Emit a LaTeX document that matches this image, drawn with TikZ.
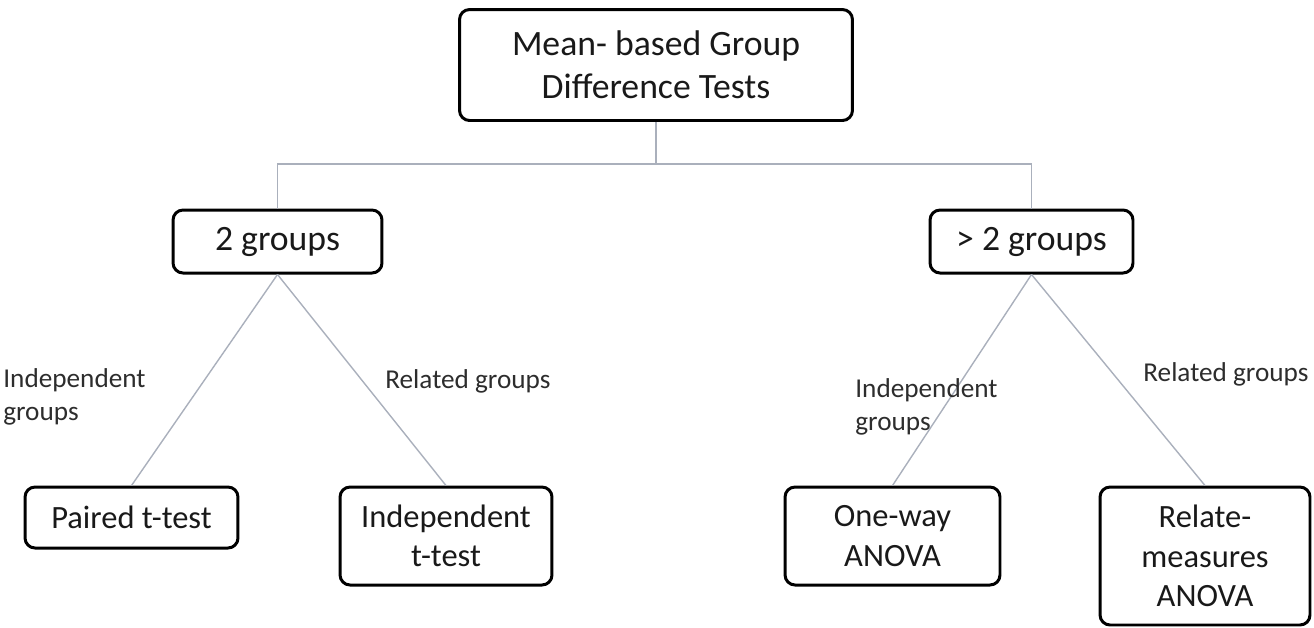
\documentclass[tikz,border=0pt]{standalone}
\usepackage{fontspec}
\setmainfont{Carlito}

\definecolor{linegray}{RGB}{170,176,188}
\definecolor{lbltext}{RGB}{45,45,45}

\tikzset{
	box/.style={draw=black, line width=1.7pt, rounded corners=0.2cm, align=center,
		inner sep=0pt, text=black!90, font=\fontsize{18.5}{22.5}\selectfont},
	bigbox/.style={box, font=\fontsize{20.3}{24.5}\selectfont},
	conn/.style={draw=linegray, line width=0.8pt},
	lbl/.style={inner sep=0pt, align=left, text=lbltext, font=\fontsize{15.5}{18.5}\selectfont}
}

\begin{document}
\begin{tikzpicture}[x=0.02cm, y=-0.02cm]

	\useasboundingbox (0,0) rectangle (1314,627);

	% root box
	\node[bigbox, minimum width=7.86cm, minimum height=2.22cm] (root) at (656,65)
		{Mean- based Group\\Difference Tests};

	% number of groups
	\node[bigbox, minimum width=4.18cm, minimum height=1.26cm] (two) at (277.5,241.5) {2 groups};
	\node[bigbox, minimum width=4.06cm, minimum height=1.26cm] (many) at (1031.5,241.5) {> 2 groups};

	% tests
	\node[box, minimum width=4.26cm, minimum height=1.22cm] (paired) at (131.5,517.5) {Paired t-test};
	\node[box, minimum width=4.24cm, minimum height=1.96cm] (indep) at (446,536) {Independent\\t-test};
	\node[box, minimum width=4.30cm, minimum height=1.96cm] (oneway) at (892.5,536) {One-way\\ANOVA};
	\node[box, minimum width=4.20cm, minimum height=2.76cm] (relmeas) at (1205,556)
		{Relate-\\measures\\ANOVA};

	% tree lines
	\coordinate (split) at (656,164);
	\draw[conn] (root.south) -- (split);
	\draw[conn] (two.north) |- (split) -| (many.north);
	\foreach \a/\b in {two/paired, two/indep, many/oneway, many/relmeas}
		\draw[conn] (\a.south) -- (\b.north);

	% branch labels (base is the last line)
	\node[lbl, anchor=base west] (lindA) at (3,420) {Independent\\groups};
	\node[lbl, anchor=base west] (lrelA) at (385,388) {Related groups};
	\node[lbl, anchor=base west] (lindB) at (855,430) {Independent\\groups};
	\node[lbl, anchor=base west] (lrelB) at (1143,381) {Related groups};

\end{tikzpicture}
\end{document}
